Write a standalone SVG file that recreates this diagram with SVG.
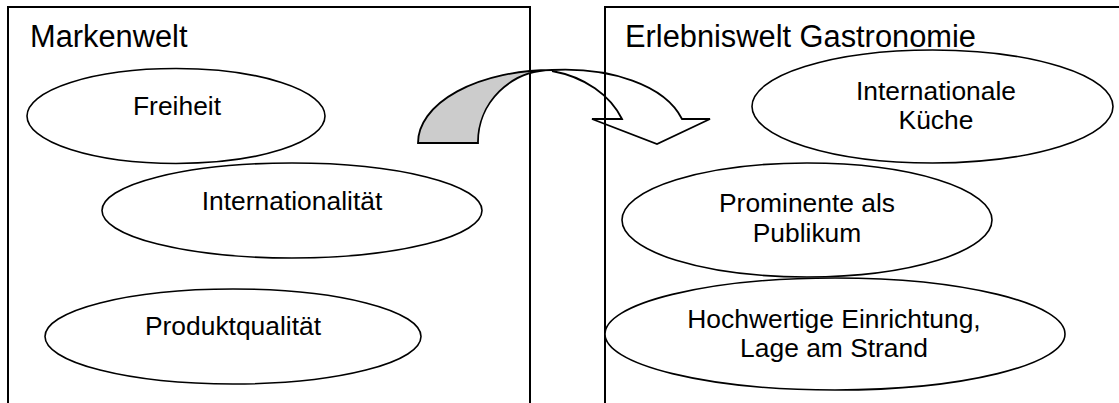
<svg xmlns="http://www.w3.org/2000/svg" width="1119" height="403" viewBox="0 0 1119 403">
  <style>
    .frame { fill: #ffffff; stroke: #000000; stroke-width: 2; }
    .bubble { fill: #ffffff; stroke: #000000; stroke-width: 1.6; }
    .title { font-family: "Liberation Sans", Arial, sans-serif; font-size: 30.8px; fill: #000000; }
    .label { font-family: "Liberation Sans", Arial, sans-serif; font-size: 26.4px; fill: #000000; text-anchor: middle; }
    .arrow-back { fill: #cccccc; stroke: #000000; stroke-width: 1.8; stroke-linejoin: miter; }
    .arrow-front { fill: none; stroke: #000000; stroke-width: 1.8; stroke-linejoin: miter; }
  </style>

  <!-- left panel: brand world -->
  <g id="markenwelt">
    <rect class="frame" x="8" y="7" width="522" height="410"/>
    <text class="title" x="30" y="47">Markenwelt</text>
  </g>

  <!-- right panel: gastronomy experience -->
  <g id="erlebniswelt">
    <rect class="frame" x="605" y="7" width="530" height="410"/>
    <text class="title" x="625" y="47">Erlebniswelt Gastronomie</text>
  </g>

  <!-- curved transfer arrow from left to right panel -->
  <g id="connectors">
    <path class="arrow-back" d="M418,143 A134,73 0 0 1 552,70 A74,72 0 0 0 478,143 Z"/>
    <path class="arrow-front" d="M552,70 C610,67 665,85 682,119 L710,119 L657,144 L592,119 L622,119 C610,95 585,77 552,71"/>
  </g>

  <g id="freiheit">
    <ellipse class="bubble" cx="176" cy="116" rx="149" ry="47.5"/>
    <text class="label" x="177" y="115">Freiheit</text>
  </g>

  <g id="internationalitaet">
    <ellipse class="bubble" cx="292" cy="210.5" rx="190" ry="47.5"/>
    <text class="label" x="292" y="210">Internationalität</text>
  </g>

  <g id="produktqualitaet">
    <ellipse class="bubble" cx="233" cy="336.5" rx="188" ry="47.5"/>
    <text class="label" x="233" y="335">Produktqualität</text>
  </g>

  <g id="internationale-kueche">
    <ellipse class="bubble" cx="932.5" cy="106.5" rx="180.5" ry="56.5"/>
    <text class="label" x="936" y="100">Internationale</text>
    <text class="label" x="936" y="129">Küche</text>
  </g>

  <g id="prominente">
    <ellipse class="bubble" cx="807" cy="220" rx="185" ry="57"/>
    <text class="label" x="807" y="212">Prominente als</text>
    <text class="label" x="807" y="242">Publikum</text>
  </g>

  <g id="einrichtung">
    <ellipse class="bubble" cx="835" cy="334" rx="230" ry="56"/>
    <text class="label" x="834" y="328">Hochwertige Einrichtung,</text>
    <text class="label" x="834" y="357">Lage am Strand</text>
  </g>
</svg>
